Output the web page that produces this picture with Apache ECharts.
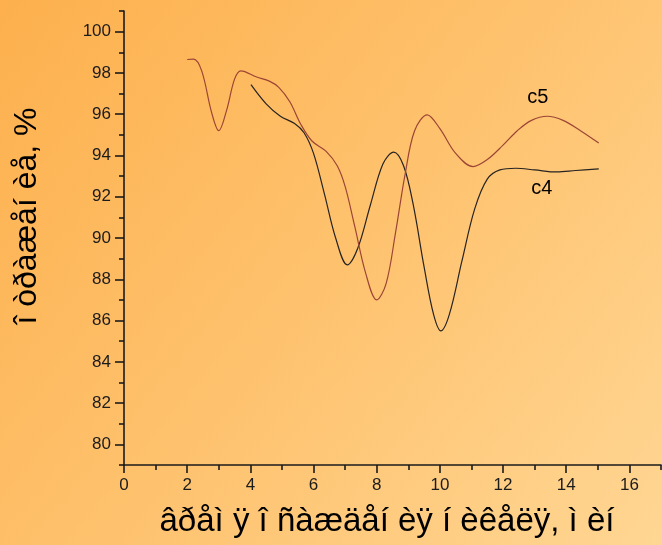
<!DOCTYPE html>
<html>
<head>
<meta charset="utf-8">
<script src="https://cdn.jsdelivr.net/npm/echarts@6/dist/echarts.min.js"></script>
<style>
  html, body { margin: 0; padding: 0; }
  #chart { width: 662px; height: 545px; }
</style>
</head>
<body>
<div id="chart"></div>
<script>
// Curve c5: deposition time (x) and reflectance (y)
const c5X = [2.0, 2.2, 2.46, 2.77, 3.0, 3.25, 3.5, 3.7, 4.2, 4.6, 4.9, 5.25, 5.6, 5.95, 6.4, 6.75, 7.0, 7.3, 7.65, 8.0, 8.3, 8.6, 8.9, 9.2, 9.6, 10.0, 10.5, 11.05, 11.5, 12.0, 12.45, 12.9, 13.4, 13.9, 14.45, 15.03];
const c5Y = [98.65, 98.67, 98.1, 96.1, 95.2, 96.2, 97.7, 98.1, 97.8, 97.6, 97.3, 96.6, 95.5, 94.7, 94.2, 93.5, 92.5, 90.6, 88.3, 87.0, 87.8, 90.3, 93.1, 95.2, 95.97, 95.3, 94.1, 93.46, 93.8, 94.5, 95.2, 95.7, 95.9, 95.7, 95.2, 94.6];

// Curve c4
const c4X = [4.02, 4.5, 4.95, 5.4, 5.7, 6.0, 6.35, 6.7, 7.07, 7.4, 7.8, 8.2, 8.54, 8.85, 9.15, 9.5, 9.8, 10.03, 10.3, 10.7, 11.1, 11.5, 11.9, 12.4, 13.0, 13.7, 14.3, 15.03];
const c4Y = [97.43, 96.5, 95.9, 95.55, 95.1, 94.1, 92.1, 90.0, 88.7, 89.5, 91.6, 93.6, 94.16, 93.5, 91.66, 88.6, 86.3, 85.5, 86.3, 88.9, 91.4, 92.85, 93.3, 93.38, 93.3, 93.2, 93.27, 93.35];

// Series names and where their tags sit (data coordinates)
const seriesNames = ['c4', 'c5'];
const c4TagAt = [13.23, 92.4];
const c5TagAt = [13.1, 96.8];

// Axis ranges and ticks
const xRange = [0, 17];
const yRange = [79, 101];
const xMajorTicks = [0, 2, 4, 6, 8, 10, 12, 14, 16];
const xMinorTicks = [1, 3, 5, 7, 9, 11, 13, 15, 17];
const yMajorTicks = [80, 82, 84, 86, 88, 90, 92, 94, 96, 98, 100];
const yMinorTicks = [79, 81, 83, 85, 87, 89, 91, 93, 95, 97, 99, 101];

// Axis titles
const xTitle = 'âðåì ÿ î ñàæäåí èÿ í èêåëÿ, ì èí';
const yTitle = 'î òðàæåí èå, %';

const pairs = (xs, ys) => xs.map((x, i) => [x, ys[i]]);

const ink = '#1b1b1b';
const tickFont = "'Liberation Sans Narrow', 'Liberation Sans', Arial, sans-serif";
const titleFont = "'Liberation Sans', Arial, sans-serif";
const gridBox = { left: 124, right: 1, top: 11, bottom: 80 };

const chart = echarts.init(document.getElementById('chart'), null, { renderer: 'canvas' });

chart.setOption({
  animation: false,
  backgroundColor: new echarts.graphic.LinearGradient(0, 0, 1, 1, [
    { offset: 0, color: '#fdb04d' },
    { offset: 0.5, color: '#fec26e' },
    { offset: 1, color: '#ffd693' }
  ]),
  grid: [
    Object.assign({ containLabel: false }, gridBox),
    Object.assign({ containLabel: false }, gridBox)
  ],
  xAxis: [
    {
      type: 'value', gridIndex: 0, min: xRange[0], max: xRange[1],
      position: 'bottom',
      axisLine: { show: true, onZero: false, lineStyle: { color: ink, width: 1.6 } },
      axisTick: { show: true, inside: false, length: 8, customValues: xMajorTicks, lineStyle: { color: ink, width: 1.6 } },
      axisLabel: { show: true, customValues: xMajorTicks, margin: 12, color: ink, fontSize: 17, fontFamily: tickFont },
      splitLine: { show: false }
    },
    {
      type: 'value', gridIndex: 1, min: xRange[0], max: xRange[1],
      position: 'bottom',
      axisLine: { show: false, onZero: false },
      axisTick: { show: true, inside: false, length: 5, customValues: xMinorTicks, lineStyle: { color: ink, width: 1.6 } },
      axisLabel: { show: false },
      splitLine: { show: false }
    }
  ],
  yAxis: [
    {
      type: 'value', gridIndex: 0, min: yRange[0], max: yRange[1],
      position: 'left',
      axisLine: { show: true, onZero: false, lineStyle: { color: ink, width: 1.6 } },
      axisTick: { show: true, inside: false, length: 9, customValues: yMajorTicks, lineStyle: { color: ink, width: 1.6 } },
      axisLabel: { show: true, customValues: yMajorTicks, margin: 13, color: ink, fontSize: 17, fontFamily: tickFont },
      splitLine: { show: false }
    },
    {
      type: 'value', gridIndex: 1, min: yRange[0], max: yRange[1],
      position: 'left',
      axisLine: { show: false, onZero: false },
      axisTick: { show: true, inside: false, length: 5, customValues: yMinorTicks, lineStyle: { color: ink, width: 1.6 } },
      axisLabel: { show: false },
      splitLine: { show: false }
    }
  ],
  series: [
    {
      name: seriesNames[0],
      type: 'line',
      xAxisIndex: 0, yAxisIndex: 0,
      data: pairs(c4X, c4Y),
      smooth: 0.35,
      showSymbol: false,
      lineStyle: { color: '#262321', width: 1.2 },
      markPoint: {
        symbol: 'circle', symbolSize: 1,
        itemStyle: { color: 'rgba(0,0,0,0)' },
        label: { show: true, position: 'inside', formatter: seriesNames[0], color: '#000', fontSize: 20, fontFamily: titleFont },
        data: [{ coord: c4TagAt }]
      }
    },
    {
      name: seriesNames[1],
      type: 'line',
      xAxisIndex: 0, yAxisIndex: 0,
      data: pairs(c5X, c5Y),
      smooth: 0.35,
      showSymbol: false,
      lineStyle: { color: '#9c4536', width: 1.2 },
      markPoint: {
        symbol: 'circle', symbolSize: 1,
        itemStyle: { color: 'rgba(0,0,0,0)' },
        label: { show: true, position: 'inside', formatter: seriesNames[1], color: '#000', fontSize: 20, fontFamily: titleFont },
        data: [{ coord: c5TagAt }]
      }
    }
  ],
  graphic: [
    {
      type: 'text',
      x: 387, y: 522,
      style: { text: xTitle, fill: '#000', fontSize: 33, fontFamily: titleFont, align: 'center', verticalAlign: 'middle' }
    },
    {
      type: 'text',
      x: 27, y: 216, rotation: Math.PI / 2,
      style: { text: yTitle, fill: '#000', fontSize: 32, fontFamily: titleFont, align: 'center', verticalAlign: 'middle' }
    }
  ]
});
</script>
</body>
</html>
